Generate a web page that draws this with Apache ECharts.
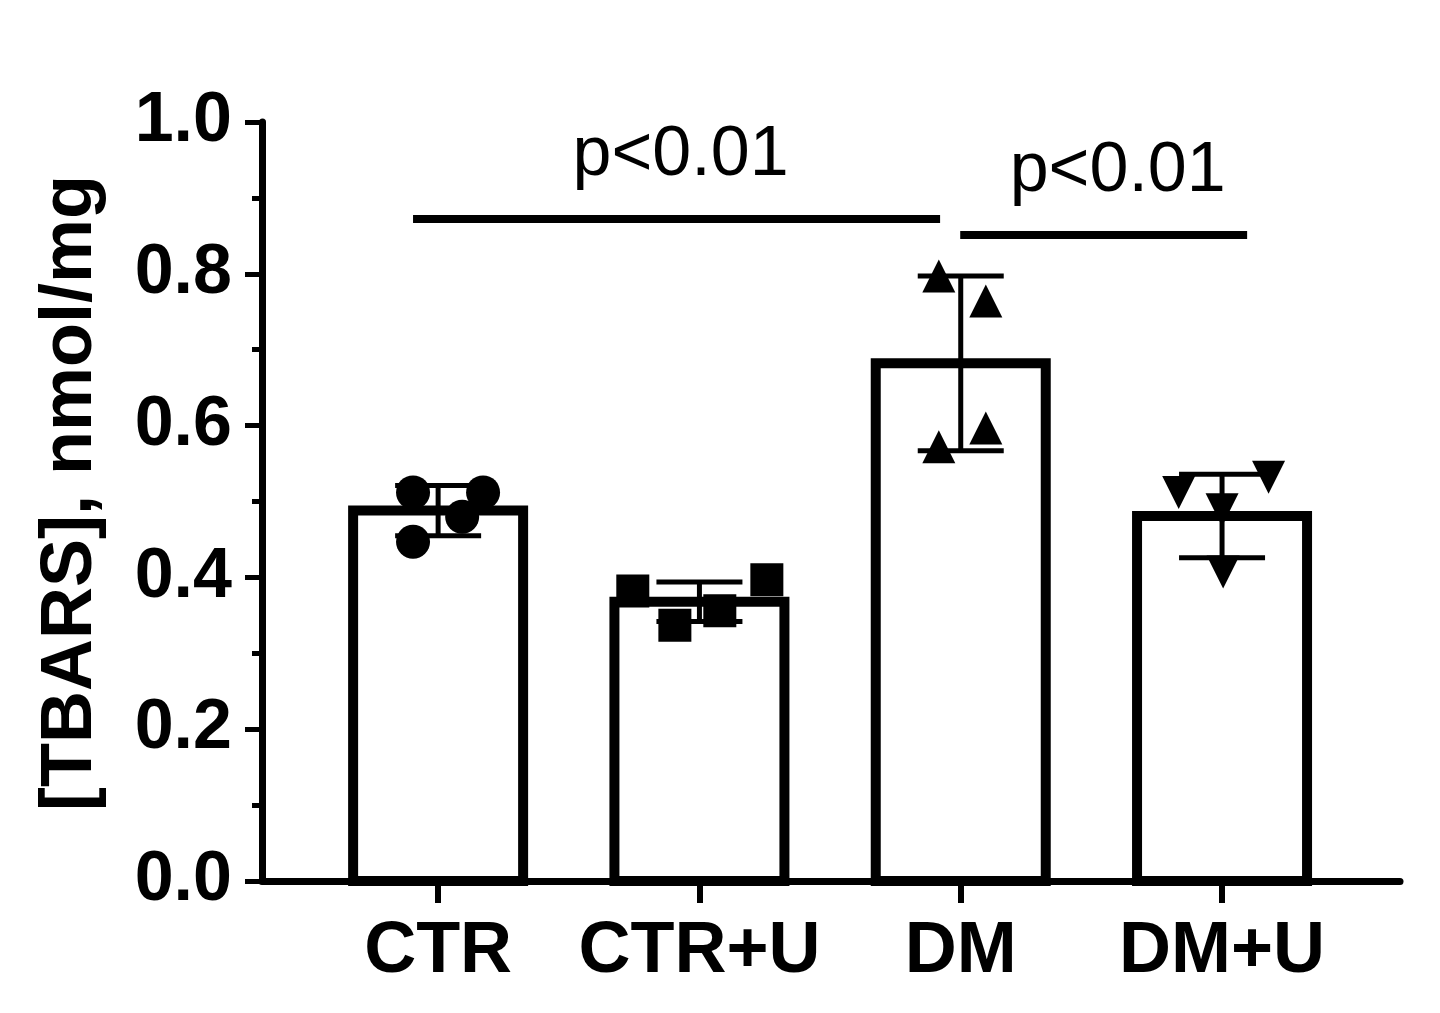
<!DOCTYPE html>
<html>
<head>
<meta charset="utf-8">
<title>TBARS</title>
<script src="https://cdn.jsdelivr.net/npm/echarts@6/dist/echarts.min.js"></script>
<style>
  html, body { margin: 0; padding: 0; background: #fff; }
  #main { width: 1440px; height: 1013px; }
</style>
</head>
<body>
<div id="main"></div>
<script>
// groups on the x axis
var categories = ["CTR", "CTR+U", "DM", "DM+U"];
// bar heights (mean) and SD
var means = [0.488, 0.368, 0.682, 0.481];
var sds = [0.033, 0.026, 0.115, 0.055];
// individual points per group, with horizontal jitter (in category units)
var ctrPts = [0.512, 0.512, 0.480, 0.447];
var ctrJitter = [-0.096, 0.172, 0.092, -0.096];
var ctruPts = [0.382, 0.397, 0.337, 0.356];
var ctruJitter = [-0.255, 0.258, -0.094, 0.078];
var dmPts = [0.797, 0.764, 0.597, 0.572];
var dmJitter = [-0.084, 0.096, 0.096, -0.084];
var dmuPts = [0.512, 0.532, 0.489, 0.407];
var dmuJitter = [-0.166, 0.178, 0.0, 0.004];
// significance brackets: [x start, x end, y, text]
var brackets = [
  [-0.096, 1.921, 0.872, "p<0.01"],
  [1.998, 3.096, 0.852, "p<0.01"]
];

var font = "'Liberation Sans', Arial, sans-serif";
var labelShift = [[4, 0], [14, 0]];

function pts(values, jitter, idx) {
  return values.map(function (v, i) { return [idx + jitter[i], v]; });
}

var chart = echarts.init(document.getElementById("main"));

var option = {
  backgroundColor: "#fff",
  animation: false,
  grid: { left: 262, right: 40, top: 122, bottom: 132 },
  xAxis: {
    type: "value",
    min: -0.674,
    max: 3.681,
    splitLine: { show: false },
    axisLine: { show: true, onZero: false, lineStyle: { color: "#000", width: 7 } },
    axisTick: {
      show: true,
      customValues: [0, 1, 2, 3],
      length: 22,
      lineStyle: { color: "#000", width: 6 }
    },
    axisLabel: {
      customValues: [0, 1, 2, 3],
      formatter: function (v) { return categories[Math.round(v)]; },
      fontSize: 72,
      fontWeight: "bold",
      fontFamily: font,
      color: "#000",
      margin: 35
    }
  },
  yAxis: {
    type: "value",
    min: 0,
    max: 1,
    interval: 0.2,
    name: "[TBARS], nmol/mg",
    nameLocation: "middle",
    nameGap: 155,
    nameTextStyle: { fontSize: 72, fontWeight: "bold", fontFamily: font, color: "#000", padding: [0, 0, 0, 17] },
    splitLine: { show: false },
    axisLine: { show: true, onZero: false, lineStyle: { color: "#000", width: 7 } },
    axisTick: { show: true, length: 17, lineStyle: { color: "#000", width: 5 } },
    minorTick: { show: true, splitNumber: 2, length: 10, lineStyle: { color: "#000", width: 5 } },
    axisLabel: {
      fontSize: 70,
      fontWeight: "bold",
      fontFamily: font,
      color: "#000",
      margin: 30,
      formatter: function (v) { return v.toFixed(1); }
    }
  },
  series: [
    {
      // open bars, border centred on the mean like the original
      type: "custom",
      z: 2,
      data: means.map(function (m, i) { return [i, m]; }),
      renderItem: function (params, api) {
        var top = api.coord([api.value(0), api.value(1)]);
        var base = api.coord([api.value(0), 0]);
        var w = 170;
        return {
          type: "rect",
          shape: { x: top[0] - w / 2, y: top[1], width: w, height: base[1] - top[1] },
          style: { fill: "#fff", stroke: "#000", lineWidth: 10 }
        };
      }
    },
    {
      type: "custom",
      z: 3,
      data: means.map(function (m, i) { return [i, m - sds[i], m + sds[i]]; }),
      renderItem: function (params, api) {
        var x = api.value(0);
        var lo = api.coord([x, api.value(1)]);
        var hi = api.coord([x, api.value(2)]);
        var hw = 43;
        var st = { stroke: "#000", lineWidth: 5 };
        return {
          type: "group",
          children: [
            { type: "line", shape: { x1: hi[0], y1: hi[1], x2: lo[0], y2: lo[1] }, style: st },
            { type: "line", shape: { x1: hi[0] - hw, y1: hi[1], x2: hi[0] + hw, y2: hi[1] }, style: st },
            { type: "line", shape: { x1: lo[0] - hw, y1: lo[1], x2: lo[0] + hw, y2: lo[1] }, style: st }
          ]
        };
      }
    },
    {
      type: "scatter", z: 4, symbol: "circle", symbolSize: 34,
      itemStyle: { color: "#000", opacity: 1 },
      data: pts(ctrPts, ctrJitter, 0)
    },
    {
      type: "scatter", z: 4, symbol: "rect", symbolSize: 33,
      itemStyle: { color: "#000", opacity: 1 },
      data: pts(ctruPts, ctruJitter, 1)
    },
    {
      type: "scatter", z: 4, symbol: "triangle", symbolSize: 33,
      itemStyle: { color: "#000", opacity: 1 },
      data: pts(dmPts, dmJitter, 2)
    },
    {
      type: "scatter", z: 4, symbol: "triangle", symbolSize: 33, symbolRotate: 180,
      itemStyle: { color: "#000", opacity: 1 },
      data: pts(dmuPts, dmuJitter, 3)
    },
    {
      type: "line",
      data: [],
      markLine: {
        silent: true,
        symbol: "none",
        animation: false,
        lineStyle: { color: "#000", width: 8, type: "solid" },
        label: {
          show: true,
          position: "middle",
          distance: 28,
          fontSize: 70,
          fontFamily: font,
          color: "#000",
          formatter: function (p) { return p.name; }
        },
        emphasis: { disabled: true },
        data: brackets.map(function (b, i) {
          return [
            { coord: [b[0], b[2]], name: b[3], label: { offset: labelShift[i] } },
            { coord: [b[1], b[2]] }
          ];
        })
      }
    }
  ]
};

chart.setOption(option);
window.addEventListener("resize", function () { chart.resize(); });
</script>
</body>
</html>
